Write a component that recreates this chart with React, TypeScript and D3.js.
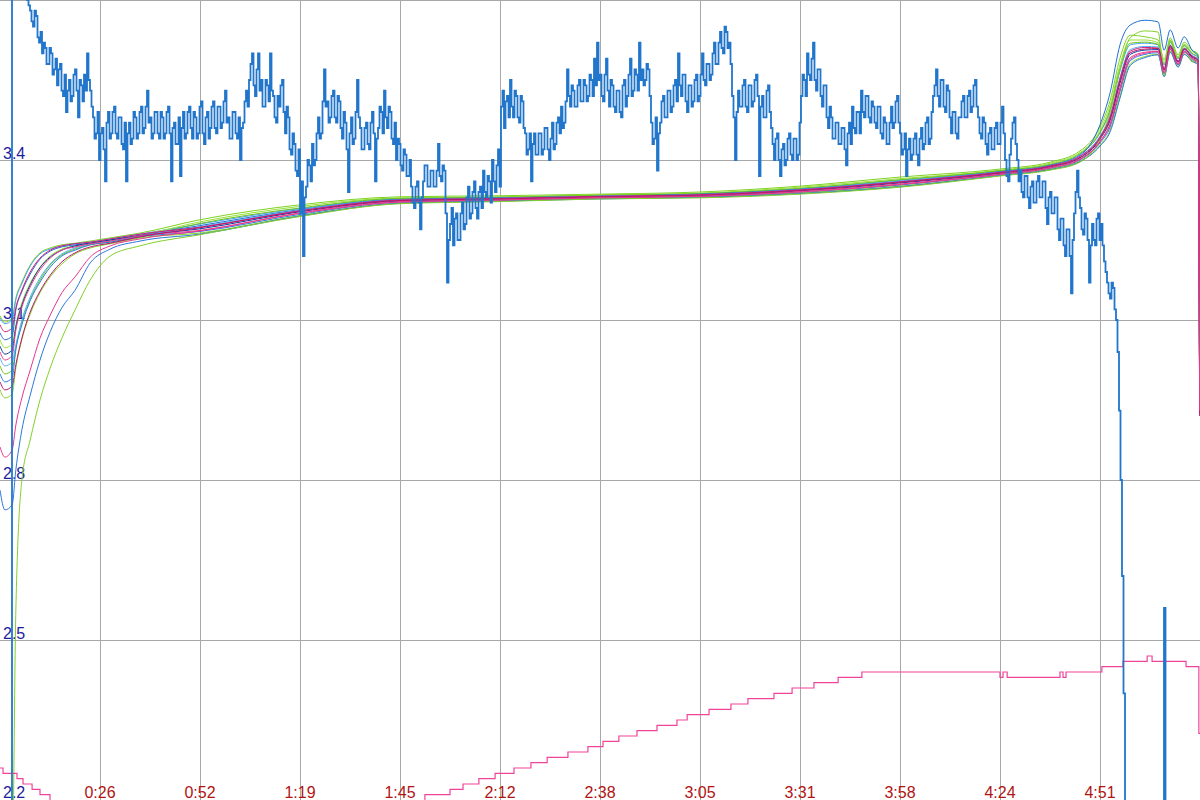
import React from 'react';
import * as d3 from 'd3';

const W = 1200;
const H = 800;

// axis ticks: time in seconds, voltage gridlines
const timeTicks = [26, 52.5, 79, 105.5, 132, 158.5, 185, 211.5, 238, 264.5, 291];
const voltTicks = [3.7, 3.4, 3.1, 2.8, 2.5, 2.2];
const voltLabels = ['', '3.4', '3.1', '2.8', '2.5', '2.2'];

// pack voltage: packVolts are read every packStepSec from packStartSec,
// packVoltsMid are the readings half a step after each of them
const packStartSec = 1.885;
const packStepSec = 0.795;
const packVolts = [
  2.00,
  3.75, 3.74, 3.75, 3.73, 3.72, 3.70, 3.68, 3.65, 3.67, 3.62, 3.60, 3.61, 3.58, 3.60, 3.57, 3.54, 3.58, 3.52, 3.49, 3.55,
  3.52, 3.57, 3.48, 3.54, 3.56, 3.60, 3.53, 3.48, 3.45, 3.40, 3.46, 3.36, 3.49, 3.45, 3.50, 3.44, 3.48, 3.42, 3.36, 3.47,
  3.44, 3.48, 3.45, 3.50, 3.46, 3.53, 3.48, 3.45, 3.49, 3.44, 3.48, 3.45, 3.50, 3.36, 3.47, 3.43, 3.37, 3.49, 3.45, 3.50,
  3.44, 3.48, 3.45, 3.51, 3.43, 3.49, 3.46, 3.51, 3.45, 3.50, 3.47, 3.53, 3.48, 3.44, 3.49, 3.44, 3.40, 3.47, 3.53, 3.55,
  3.60, 3.52, 3.60, 3.55, 3.50, 3.54, 3.60, 3.52, 3.47, 3.50, 3.55, 3.45, 3.48, 3.41, 3.43, 3.37, 3.30, 3.22, 3.35, 3.39,
  3.43, 3.40, 3.48, 3.45, 3.57, 3.51, 3.48, 3.53, 3.47, 3.51, 3.44, 3.47, 3.34, 3.48, 3.44, 3.55, 3.46, 3.42, 3.47, 3.42,
  3.49, 3.36, 3.46, 3.49, 3.53, 3.46, 3.49, 3.43, 3.40, 3.43, 3.38, 3.41, 3.37, 3.35, 3.31, 3.36, 3.27, 3.36, 3.39, 3.35,
  3.38, 3.35, 3.43, 3.36, 3.38, 3.17, 3.28, 3.24, 3.30, 3.25, 3.32, 3.28, 3.35, 3.30, 3.36, 3.29, 3.35, 3.38, 3.33, 3.36,
  3.40, 3.34, 3.42, 3.50, 3.46, 3.52, 3.55, 3.48, 3.52, 3.47, 3.51, 3.45, 3.42, 3.36, 3.45, 3.41, 3.45, 3.42, 3.46, 3.40,
  3.47, 3.43, 3.48, 3.50, 3.47, 3.57, 3.50, 3.53, 3.50, 3.55, 3.51, 3.54, 3.52, 3.55, 3.59, 3.62, 3.56, 3.51, 3.59, 3.50,
  3.54, 3.49, 3.53, 3.48, 3.55, 3.52, 3.59, 3.53, 3.56, 3.62, 3.57, 3.55, 3.57, 3.47, 3.44, 3.38, 3.47, 3.52, 3.48, 3.53,
  3.50, 3.55, 3.60, 3.52, 3.56, 3.49, 3.54, 3.51, 3.56, 3.52, 3.60, 3.54, 3.58, 3.56, 3.62, 3.58, 3.64, 3.60, 3.64, 3.62,
  3.52, 3.40, 3.53, 3.50, 3.55, 3.49, 3.54, 3.51, 3.56, 3.37, 3.52, 3.48, 3.54, 3.46, 3.40, 3.45, 3.37, 3.43, 3.40, 3.45,
  3.40, 3.44, 3.41, 3.52, 3.55, 3.60, 3.55, 3.62, 3.53, 3.57, 3.50, 3.54, 3.46, 3.48, 3.44, 3.47, 3.43, 3.46, 3.39, 3.47,
  3.50, 3.45, 3.49, 3.53, 3.48, 3.52, 3.47, 3.50, 3.46, 3.50, 3.44, 3.47, 3.43, 3.50, 3.47, 3.52, 3.45, 3.42, 3.37, 3.44,
  3.41, 3.45, 3.39, 3.46, 3.43, 3.48, 3.44, 3.52, 3.57, 3.50, 3.55, 3.49, 3.53, 3.45, 3.49, 3.44, 3.48, 3.52, 3.48, 3.53,
  3.50, 3.55, 3.48, 3.44, 3.47, 3.41, 3.46, 3.42, 3.47, 3.43, 3.50, 3.40, 3.36, 3.44, 3.48, 3.40, 3.38, 3.33, 3.37, 3.31,
  3.36, 3.32, 3.37, 3.33, 3.36, 3.28, 3.34, 3.30, 3.33, 3.25, 3.29, 3.22, 3.27, 3.15, 3.30, 3.38, 3.31, 3.26, 3.29, 3.17,
  3.28, 3.24, 3.30, 3.28, 3.21, 3.17, 3.14, 3.16, 3.10, 2.93, 2.62, 2.05,
  2.00, 2.00, 2.00, 2.00, 2.00, 2.00, 2.00, 2.00, 2.00, 2.00, 2.00, 2.00, 2.56,
  2.00, 2.00, 2.00, 2.00, 2.00, 2.00, 2.00, 2.00, 2.00, 2.00, 2.00, 2.00,
];
const packVoltsMid = [
  2.00,
  3.76, 3.73, 3.74, 3.72, 3.71, 3.69, 3.66, 3.68, 3.63, 3.64, 3.62, 3.58, 3.61, 3.56, 3.59, 3.57, 3.53, 3.56, 3.53, 3.51,
  3.56, 3.53, 3.55, 3.51, 3.53, 3.55, 3.50, 3.44, 3.49, 3.45, 3.42, 3.47, 3.44, 3.49, 3.45, 3.48, 3.43, 3.47, 3.45, 3.43,
  3.49, 3.44, 3.49, 3.45, 3.50, 3.47, 3.44, 3.49, 3.45, 3.49, 3.44, 3.49, 3.45, 3.46, 3.43, 3.48, 3.46, 3.44, 3.49, 3.46,
  3.49, 3.44, 3.50, 3.45, 3.48, 3.44, 3.50, 3.46, 3.50, 3.46, 3.51, 3.47, 3.44, 3.49, 3.45, 3.48, 3.46, 3.51, 3.50, 3.58,
  3.54, 3.57, 3.53, 3.50, 3.55, 3.51, 3.53, 3.48, 3.52, 3.54, 3.49, 3.50, 3.42, 3.45, 3.38, 3.42, 3.36, 3.33, 3.40, 3.36,
  3.39, 3.45, 3.44, 3.51, 3.50, 3.47, 3.52, 3.48, 3.52, 3.46, 3.49, 3.42, 3.45, 3.43, 3.49, 3.48, 3.42, 3.46, 3.43, 3.47,
  3.45, 3.44, 3.50, 3.45, 3.48, 3.50, 3.44, 3.47, 3.44, 3.39, 3.42, 3.37, 3.40, 3.32, 3.35, 3.32, 3.33, 3.39, 3.35, 3.38,
  3.35, 3.38, 3.37, 3.39, 3.30, 3.25, 3.31, 3.29, 3.25, 3.30, 3.27, 3.33, 3.29, 3.34, 3.31, 3.34, 3.31, 3.34, 3.37, 3.32,
  3.36, 3.39, 3.35, 3.53, 3.51, 3.48, 3.50, 3.53, 3.48, 3.52, 3.46, 3.41, 3.45, 3.43, 3.41, 3.45, 3.41, 3.46, 3.42, 3.44,
  3.42, 3.47, 3.45, 3.46, 3.51, 3.52, 3.54, 3.50, 3.54, 3.51, 3.55, 3.51, 3.56, 3.52, 3.54, 3.55, 3.52, 3.56, 3.53, 3.55,
  3.50, 3.53, 3.49, 3.54, 3.50, 3.56, 3.52, 3.57, 3.53, 3.55, 3.54, 3.58, 3.52, 3.43, 3.48, 3.45, 3.51, 3.48, 3.53, 3.49,
  3.54, 3.51, 3.54, 3.56, 3.51, 3.54, 3.50, 3.55, 3.51, 3.56, 3.55, 3.58, 3.55, 3.60, 3.58, 3.62, 3.61, 3.65, 3.61, 3.58,
  3.48, 3.49, 3.50, 3.54, 3.50, 3.54, 3.50, 3.55, 3.52, 3.50, 3.48, 3.53, 3.49, 3.43, 3.44, 3.40, 3.42, 3.39, 3.44, 3.41,
  3.44, 3.40, 3.47, 3.56, 3.52, 3.56, 3.59, 3.55, 3.57, 3.52, 3.54, 3.48, 3.50, 3.44, 3.47, 3.43, 3.46, 3.42, 3.45, 3.43,
  3.46, 3.49, 3.45, 3.49, 3.52, 3.48, 3.51, 3.47, 3.50, 3.45, 3.48, 3.43, 3.47, 3.46, 3.51, 3.47, 3.41, 3.45, 3.42, 3.40,
  3.44, 3.41, 3.44, 3.42, 3.47, 3.43, 3.49, 3.54, 3.52, 3.55, 3.50, 3.54, 3.48, 3.49, 3.45, 3.48, 3.51, 3.48, 3.52, 3.49,
  3.54, 3.50, 3.45, 3.48, 3.43, 3.45, 3.42, 3.46, 3.43, 3.47, 3.45, 3.37, 3.41, 3.47, 3.43, 3.36, 3.34, 3.37, 3.33, 3.35,
  3.32, 3.36, 3.33, 3.36, 3.31, 3.33, 3.30, 3.33, 3.27, 3.29, 3.24, 3.27, 3.22, 3.25, 3.34, 3.33, 3.27, 3.30, 3.25, 3.24,
  3.25, 3.29, 3.25, 3.24, 3.19, 3.15, 3.17, 3.12, 3.04, 2.80, 2.40, 2.00,
  2.00, 2.00, 2.00, 2.00, 2.00, 2.00, 2.00, 2.00, 2.00, 2.00, 2.00, 2.00, 2.00,
  2.00, 2.00, 2.00, 2.00, 2.00, 2.00, 2.00, 2.00, 2.00, 2.00, 2.00, 2.00,
];

// cell voltages, all sampled at cellTimes
const cellTimes = [
  -0.5, 0.8, 2.7, 3.7, 5.3, 7.5, 10.1, 12.8, 15.9, 19.4, 23.4, 28.7, 36.6,
  52.5, 79.0, 105.5, 132.0, 158.5, 185.0, 211.5, 238.0, 264.5, 277.8, 285.7, 291.0, 293.7,
  296.3, 299.0, 302.9, 306.4, 308.0, 309.6, 311.7, 313.3, 315.4, 317.0, 317.4,
];
const cell01 = [3.108, 3.096, 3.104, 3.141, 3.171, 3.203, 3.226, 3.235, 3.241, 3.244, 3.248, 3.254, 3.263,
  3.288, 3.316, 3.331, 3.333, 3.336, 3.340, 3.351, 3.368, 3.383, 3.396, 3.417, 3.462, 3.512,
  3.591, 3.634, 3.631, 3.625, 3.588, 3.629, 3.597, 3.621, 3.606, 3.599, 2.950];
const cell02 = [3.104, 3.093, 3.100, 3.138, 3.168, 3.201, 3.224, 3.233, 3.239, 3.243, 3.246, 3.252, 3.261,
  3.280, 3.309, 3.327, 3.330, 3.333, 3.337, 3.346, 3.362, 3.379, 3.391, 3.411, 3.451, 3.493,
  3.567, 3.616, 3.619, 3.616, 3.578, 3.621, 3.590, 3.614, 3.599, 3.592, 2.940];
const cell03 = [3.091, 3.078, 3.085, 3.123, 3.156, 3.190, 3.216, 3.231, 3.239, 3.243, 3.246, 3.252, 3.261,
  3.274, 3.305, 3.325, 3.328, 3.332, 3.335, 3.344, 3.359, 3.377, 3.389, 3.407, 3.443, 3.481,
  3.552, 3.604, 3.611, 3.610, 3.571, 3.615, 3.585, 3.609, 3.595, 3.588, 2.930];
const cell04 = [3.076, 3.063, 3.070, 3.119, 3.153, 3.186, 3.214, 3.229, 3.237, 3.241, 3.244, 3.250, 3.259,
  3.277, 3.307, 3.326, 3.329, 3.332, 3.336, 3.345, 3.360, 3.378, 3.390, 3.409, 3.466, 3.527,
  3.616, 3.653, 3.662, 3.659, 3.606, 3.644, 3.610, 3.631, 3.606, 3.595, 2.955];
const cell05 = [3.063, 3.048, 3.055, 3.091, 3.132, 3.169, 3.199, 3.220, 3.233, 3.239, 3.244, 3.250, 3.259,
  3.284, 3.313, 3.329, 3.331, 3.335, 3.338, 3.349, 3.365, 3.381, 3.394, 3.414, 3.456, 3.503,
  3.579, 3.625, 3.625, 3.620, 3.583, 3.625, 3.593, 3.617, 3.603, 3.596, 2.945];
const cell06 = [3.051, 3.036, 3.044, 3.087, 3.128, 3.166, 3.198, 3.218, 3.231, 3.239, 3.244, 3.250, 3.258,
  3.271, 3.303, 3.323, 3.326, 3.331, 3.333, 3.342, 3.357, 3.375, 3.387, 3.404, 3.439, 3.475,
  3.544, 3.598, 3.606, 3.607, 3.568, 3.612, 3.583, 3.607, 3.593, 3.586, 2.950];
const cell07 = [3.040, 3.025, 3.033, 3.081, 3.124, 3.162, 3.194, 3.216, 3.231, 3.237, 3.243, 3.248, 3.258,
  3.268, 3.301, 3.322, 3.325, 3.330, 3.332, 3.341, 3.355, 3.374, 3.386, 3.402, 3.435, 3.469,
  3.536, 3.592, 3.602, 3.604, 3.564, 3.609, 3.580, 3.604, 3.591, 3.584, 2.925];
const cell08 = [3.029, 3.014, 3.021, 3.053, 3.100, 3.143, 3.179, 3.205, 3.224, 3.235, 3.243, 3.248, 3.258,
  3.275, 3.306, 3.325, 3.328, 3.332, 3.335, 3.344, 3.359, 3.377, 3.389, 3.408, 3.445, 3.484,
  3.555, 3.607, 3.613, 3.612, 3.573, 3.616, 3.586, 3.610, 3.596, 3.589, 2.940];
const cell09 = [3.014, 2.999, 3.006, 3.049, 3.096, 3.139, 3.175, 3.203, 3.222, 3.233, 3.241, 3.246, 3.256,
  3.281, 3.310, 3.328, 3.330, 3.334, 3.337, 3.347, 3.363, 3.380, 3.392, 3.412, 3.452, 3.496,
  3.571, 3.619, 3.621, 3.617, 3.579, 3.622, 3.591, 3.615, 3.600, 3.593, 2.945];
const cell10 = [2.999, 2.984, 2.991, 3.044, 3.091, 3.136, 3.171, 3.199, 3.220, 3.231, 3.241, 3.246, 3.256,
  3.266, 3.298, 3.321, 3.324, 3.329, 3.331, 3.339, 3.353, 3.373, 3.384, 3.400, 3.432, 3.462,
  3.528, 3.586, 3.598, 3.601, 3.561, 3.607, 3.578, 3.602, 3.588, 3.581, 2.950];
const cell11 = [2.984, 2.969, 2.976, 3.016, 3.066, 3.115, 3.154, 3.184, 3.209, 3.226, 3.237, 3.244, 3.256,
  3.273, 3.304, 3.324, 3.327, 3.331, 3.334, 3.343, 3.358, 3.376, 3.388, 3.405, 3.441, 3.478,
  3.548, 3.601, 3.608, 3.609, 3.569, 3.614, 3.584, 3.608, 3.594, 3.587, 2.920];
const cell12 = [2.969, 2.954, 2.961, 3.010, 3.063, 3.111, 3.151, 3.181, 3.205, 3.224, 3.235, 3.243, 3.254,
  3.263, 3.296, 3.319, 3.323, 3.328, 3.330, 3.338, 3.351, 3.371, 3.383, 3.398, 3.428, 3.456,
  3.520, 3.580, 3.594, 3.598, 3.557, 3.604, 3.575, 3.599, 3.586, 3.579, 2.940];
const cell13 = [2.862, 2.843, 2.856, 2.903, 2.954, 3.006, 3.066, 3.109, 3.151, 3.181, 3.218, 3.239, 3.252,
  3.267, 3.300, 3.321, 3.325, 3.329, 3.332, 3.340, 3.354, 3.373, 3.385, 3.401, 3.434, 3.466,
  3.532, 3.589, 3.600, 3.603, 3.563, 3.608, 3.579, 3.603, 3.590, 3.583, 2.930];
const cell14 = [2.781, 2.744, 2.753, 2.819, 2.894, 2.959, 3.025, 3.078, 3.123, 3.156, 3.207, 3.233, 3.248,
  3.261, 3.295, 3.319, 3.323, 3.327, 3.330, 3.337, 3.350, 3.371, 3.382, 3.397, 3.426, 3.453,
  3.516, 3.577, 3.592, 3.597, 3.556, 3.602, 3.574, 3.598, 3.585, 3.578, 2.950];
const cell15 = [2.000, 2.000, 2.050, 2.556, 2.800, 2.875, 2.950, 3.010, 3.066, 3.119, 3.175, 3.220, 3.239,
  3.260, 3.294, 3.318, 3.322, 3.327, 3.329, 3.336, 3.349, 3.370, 3.381, 3.396, 3.440, 3.490,
  3.570, 3.629, 3.642, 3.640, 3.559, 3.625, 3.591, 3.616, 3.584, 3.588, 2.945];

// stepped auxiliary trace (pink)
const auxTimes = [
  -0.5, 0.3, 4.0, 5.6, 8.0, 10.1, 12.75, 112.1, 118.75, 122.2, 126.4, 130.7, 135.7, 140.2, 144.5,
  150.0, 155.3, 159.3, 163.5, 168.3, 173.6, 178.9, 181.6, 187.4, 193.2, 197.7, 204.6, 209.4, 215.2,
  221.6, 227.9, 264.5, 265.3, 266.4, 280.4, 281.2, 282.0, 291.5, 297.1, 303.5, 304.8, 313.8, 317.2, 317.5,
];
const auxValues = [
  2.26, 2.25, 2.24, 2.23, 2.22, 2.21, 2.19, 2.21, 2.22, 2.23, 2.24, 2.25, 2.26, 2.27, 2.28,
  2.29, 2.30, 2.31, 2.32, 2.33, 2.34, 2.35, 2.36, 2.37, 2.38, 2.39, 2.40, 2.41, 2.42,
  2.43, 2.44, 2.43, 2.44, 2.43, 2.44, 2.43, 2.44, 2.45, 2.46, 2.47, 2.46, 2.45, 2.325, 2.325,
];

const cells = [cell01, cell02, cell05, cell09, cell04, cell08, cell06, cell10, cell12, cell14, cell15, cell03, cell07, cell11, cell13];
const cellColors = ['#7ed321', '#4aa3f0', '#9be03a', '#6cc41c', '#1f6fd6', '#56b0f5', '#0c3d9e', '#2a7de0',
  '#86d42a', '#2b78d8', '#84d02a', '#d0207a', '#ee3a8c', '#b8186a', '#e8368e'];

const fmtTime = (s: number) => {
  const t = Math.floor(s);
  return `${Math.floor(t / 60)}:${String(t % 60).padStart(2, '0')}`;
};

export default function App() {
  const x = d3.scaleLinear().domain([-0.5, 317.5]).range([0, W]);
  const y = d3.scaleLinear().domain([2.2, 3.7]).range([H, 0]);

  // interleave the two reading sets into one trace at half-step spacing
  const pack = packVolts.flatMap((v, i) => [v, packVoltsMid[i]]);
  const halfStep = packStepSec / 2;

  const cellLine = d3.line<number>()
    .x((_, i) => x(cellTimes[i]))
    .y(d => y(d))
    .curve(d3.curveMonotoneX);

  const packLine = d3.line<number>()
    .x((_, i) => x(packStartSec + i * halfStep))
    .y(d => y(d))
    .curve(d3.curveStepAfter);

  const auxLine = d3.line<number>()
    .x((_, i) => x(auxTimes[i]))
    .y(d => y(d))
    .curve(d3.curveStepAfter);

  const font = '"Liberation Sans", Arial, sans-serif';

  return (
    <svg width={W} height={H} style={{ position: 'absolute', left: 0, top: 0, background: '#fff' }}>
      <g shapeRendering="crispEdges" stroke="#a8a8a8" strokeWidth={1}>
        {timeTicks.map(t => (
          <line key={t} x1={Math.round(x(t)) + 0.5} x2={Math.round(x(t)) + 0.5} y1={0} y2={H} />
        ))}
        {voltTicks.map(v => (
          <line key={v} x1={0} x2={W} y1={Math.round(y(v)) + 0.5} y2={Math.round(y(v)) + 0.5} />
        ))}
      </g>
      <g fontFamily={font} fontSize={16} fill="#1e1e9c">
        {voltTicks.map((v, i) => (
          <text key={v} x={3} y={Math.min(y(v) - 1, H - 2)}>{voltLabels[i]}</text>
        ))}
      </g>
      <g fontFamily={font} fontSize={16} fill="#b01414" textAnchor="middle">
        {timeTicks.map(t => (
          <text key={t} x={x(t)} y={H - 2}>{fmtTime(t)}</text>
        ))}
      </g>
      <g fill="none" strokeWidth={1}>
        {cells.map((c, i) => (
          <path key={i} d={cellLine(c) ?? ''} stroke={cellColors[i]} />
        ))}
      </g>
      <path d={auxLine(auxValues) ?? ''} fill="none" stroke="#f0449a" strokeWidth={1.2} />
      <path d={packLine(pack) ?? ''} fill="none" stroke="#2176cc" strokeWidth={1.8} />
    </svg>
  );
}
